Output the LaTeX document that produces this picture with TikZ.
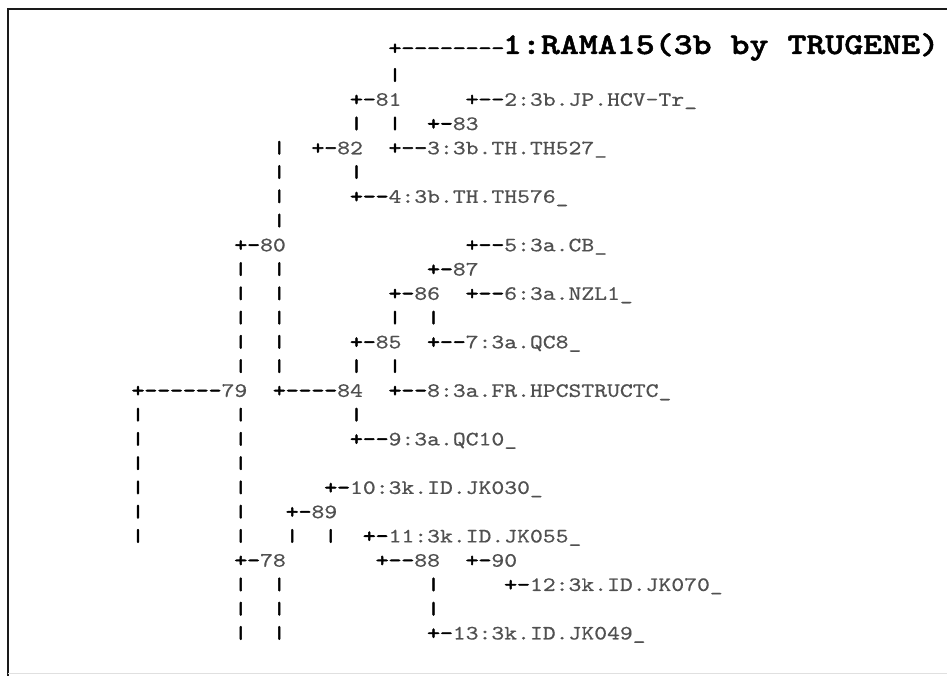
\documentclass[tikz,border=0pt]{standalone}
\usepackage{fontspec}
\usepackage{graphicx}
\newfontfamily\treemono{lmmono10-regular.otf}[FakeStretch=1.2, FakeBold=0.5]
\newfontfamily\treebold{lmmono10-regular.otf}[FakeStretch=1.2, FakeBold=2.6]
\newfontfamily\titlefont{lmmonolt10-bold.otf}[FakeStretch=1.2, FakeBold=1.6]
\definecolor{labelgray}{HTML}{505050}
\definecolor{framegray}{HTML}{1A1A1A}
\tikzset{
  txt/.style={inner sep=0pt, outer sep=0pt, anchor=base west,
    font=\treemono\fontsize{20.4}{24}\selectfont},
  barc/.style={inner sep=0pt, outer sep=0pt, anchor=center,
    font=\treebold\fontsize{20.4}{24}\selectfont},
  titletxt/.style={inner sep=0pt, outer sep=0pt, anchor=base west,
    font=\titlefont\fontsize{30.1}{34}\selectfont},
  frameline/.style={draw=framegray, line width=2.4pt},
}
\newcommand\treechars[1]{{\treebold\color{black}#1}}
\newcommand\treelabel[1]{{\color{labelgray}#1}}
% name, column, row, tree characters, label
\newcommand\treefrag[5]{\node[txt] (#1) at ({131.6+12.85*#2},{81.5+(#3-1)*24.26}) {\treechars{#4}\treelabel{#5}};}
% name, column, row
\newcommand\treebar[3]{\node[barc] (#1) at ({138+12.85*#2},{75+(#3-1)*24.26}) {\scalebox{1}[0.85]{|}};}
\begin{document}
\begin{tikzpicture}[x=1pt,y=-1pt]
\useasboundingbox (0,0) rectangle (947,676);
\fill[white] (0,0) rectangle (947,676);
% frame
\coordinate (fTL) at (8,9);
\coordinate (fTR) at (947,9);
\coordinate (fBL) at (8,676);
\draw[frameline] (fTR) -- (fTL) -- (fBL);
\coordinate (bL) at (8,673);
\coordinate (bR) at (947,673);
\draw[black!12, line width=1pt] (bL) -- (bR);
% row 0
\node[txt] (r0) at ({131.6+12.85*20},54.5) {\treechars{+--------}};
\node[titletxt] (title) at (503,54) {1:RAMA15(3b by TRUGENE)};
% row 1
\treebar{b1a}{20}{1}
% row 2
\treefrag{n81}{17}{2}{+-}{81}
\treefrag{l2}{26}{2}{+--}{2:3b.JP.HCV-Tr\_}
% row 3
\treebar{b3a}{17}{3}
\treebar{b3b}{20}{3}
\treefrag{n83}{23}{3}{+-}{83}
% row 4
\treebar{b4a}{11}{4}
\treefrag{n82}{14}{4}{+-}{82}
\treefrag{l3}{20}{4}{+--}{3:3b.TH.TH527\_}
% row 5
\treebar{b5a}{11}{5}
\treebar{b5b}{17}{5}
% row 6
\treebar{b6a}{11}{6}
\treefrag{l4}{17}{6}{+--}{4:3b.TH.TH576\_}
% row 7
\treebar{b7a}{11}{7}
% row 8
\treefrag{n80}{8}{8}{+-}{80}
\treefrag{l5}{26}{8}{+--}{5:3a.CB\_}
% row 9
\treebar{b9a}{8}{9}
\treebar{b9b}{11}{9}
\treefrag{n87}{23}{9}{+-}{87}
% row 10
\treebar{b10a}{8}{10}
\treebar{b10b}{11}{10}
\treefrag{n86}{20}{10}{+-}{86}
\treefrag{l6}{26}{10}{+--}{6:3a.NZL1\_}
% row 11
\treebar{b11a}{8}{11}
\treebar{b11b}{11}{11}
\treebar{b11c}{20}{11}
\treebar{b11d}{23}{11}
% row 12
\treebar{b12a}{8}{12}
\treebar{b12b}{11}{12}
\treefrag{n85}{17}{12}{+-}{85}
\treefrag{l7}{23}{12}{+--}{7:3a.QC8\_}
% row 13
\treebar{b13a}{8}{13}
\treebar{b13b}{11}{13}
\treebar{b13c}{17}{13}
\treebar{b13d}{20}{13}
% row 14
\treefrag{n79}{0}{14}{+------}{79}
\treefrag{n84}{11}{14}{+----}{84}
\treefrag{l8}{20}{14}{+--}{8:3a.FR.HPCSTRUCTC\_}
% row 15
\treebar{b15a}{0}{15}
\treebar{b15b}{8}{15}
\treebar{b15c}{17}{15}
% row 16
\treebar{b16a}{0}{16}
\treebar{b16b}{8}{16}
\treefrag{l9}{17}{16}{+--}{9:3a.QC10\_}
% row 17
\treebar{b17a}{0}{17}
\treebar{b17b}{8}{17}
% row 18
\treebar{b18a}{0}{18}
\treebar{b18b}{8}{18}
\treefrag{l10}{15}{18}{+-}{10:3k.ID.JK030\_}
% row 19
\treebar{b19a}{0}{19}
\treebar{b19b}{8}{19}
\treefrag{n89}{12}{19}{+-}{89}
% row 20
\treebar{b20a}{0}{20}
\treebar{b20b}{8}{20}
\treebar{b20c}{12}{20}
\treebar{b20d}{15}{20}
\treefrag{l11}{18}{20}{+-}{11:3k.ID.JK055\_}
% row 21
\treefrag{n78}{8}{21}{+-}{78}
\treefrag{n88}{19}{21}{+--}{88}
\treefrag{n90}{26}{21}{+-}{90}
% row 22
\treebar{b22a}{8}{22}
\treebar{b22b}{11}{22}
\treebar{b22c}{23}{22}
\treefrag{l12}{29}{22}{+-}{12:3k.ID.JK070\_}
% row 23
\treebar{b23a}{8}{23}
\treebar{b23b}{11}{23}
\treebar{b23c}{23}{23}
% row 24
\treebar{b24a}{8}{24}
\treebar{b24b}{11}{24}
\treefrag{l13}{23}{24}{+-}{13:3k.ID.JK049\_}
\end{tikzpicture}
\end{document}
